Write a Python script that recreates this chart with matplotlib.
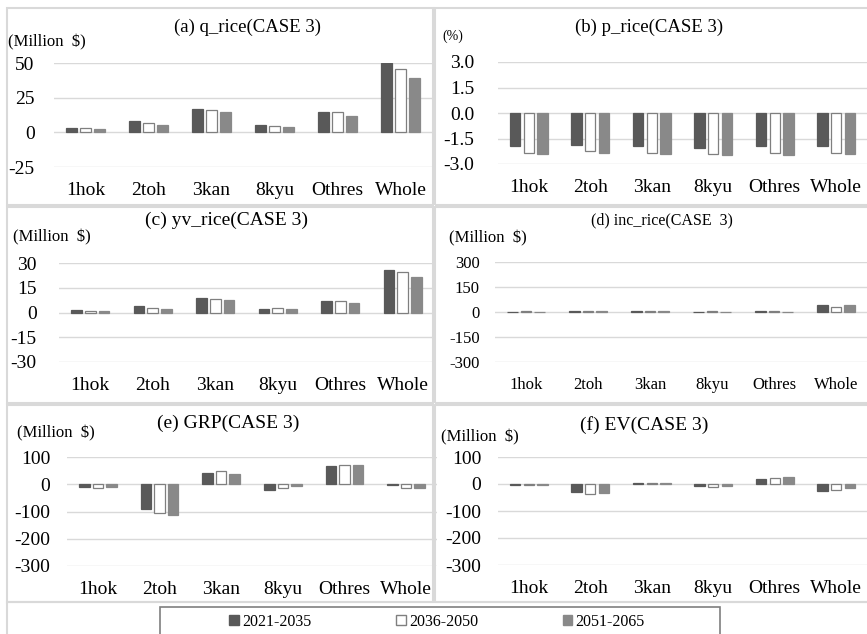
import numpy as np
import matplotlib
matplotlib.use("Agg")
import matplotlib.pyplot as plt
from matplotlib.patches import Rectangle, Patch

plt.rcParams['font.family'] = ['Liberation Serif', 'DejaVu Serif']

regions = ['1hok', '2toh', '3kan', '8kyu', 'Othres', 'Whole']
periods = ['2021-2035', '2036-2050', '2051-2065']

# (a) q_rice
q_rice_1 = [3.4, 8.0, 16.5, 5.0, 14.8, 50.0]
q_rice_2 = [2.8, 6.8, 16.3, 4.8, 14.5, 46.0]
q_rice_3 = [2.2, 5.0, 14.8, 4.0, 11.8, 39.5]
# (b) p_rice
p_rice_1 = [-1.95, -1.88, -1.95, -2.05, -1.95, -1.95]
p_rice_2 = [-2.34, -2.24, -2.34, -2.40, -2.34, -2.34]
p_rice_3 = [-2.44, -2.34, -2.44, -2.48, -2.48, -2.44]
# (c) yv_rice
yv_rice_1 = [1.4, 4.0, 8.6, 2.4, 7.0, 26.0]
yv_rice_2 = [1.2, 3.0, 8.4, 3.0, 7.0, 24.4]
yv_rice_3 = [0.8, 2.4, 7.8, 2.4, 5.6, 21.4]
# (d) inc_rice
inc_rice_1 = [1, 9, 9, 1, 9, 40]
inc_rice_2 = [9, 9, 9, 9, 9, 29]
inc_rice_3 = [1, 9, 9, 1, 1, 40]
# (e) GRP
grp_1 = [-10, -91, 43, -20, 68, -4]
grp_2 = [-15, -106, 49, -14, 71, -14]
grp_3 = [-10, -112, 37, -5, 71, -14]
# (f) EV
ev_1 = [-3, -28, 2, -8, 17, -25]
ev_2 = [-3, -37, 5, -12, 24, -24]
ev_3 = [-3, -34, 5, -8, 26, -16]

W, H = 867, 634
fig = plt.figure(figsize=(W / 100, H / 100), dpi=100)

def fx(x):
    return x / W

def fy(y):
    return 1 - y / H

def box(x0, y0, x1, y1):
    return [fx(x0), fy(y1), (x1 - x0) / W, (y1 - y0) / H]

# panel frames
for (x0, y0, x1, y1) in [(7, 8, 433, 205), (435, 8, 870, 205),
                         (7, 207, 433, 403), (435, 207, 870, 403),
                         (7, 405, 433, 602), (435, 405, 870, 602)]:
    fig.patches.append(Rectangle((fx(x0), fy(y1)), (x1 - x0) / W, (y1 - y0) / H,
                                 transform=fig.transFigure, fill=False,
                                 edgecolor='#d9d9d9', lw=1.5))
fig.patches.append(Rectangle((fx(7), fy(640)), (870 - 7) / W, (640 - 602) / H,
                             transform=fig.transFigure, fill=False,
                             edgecolor='#d9d9d9', lw=1.5))

colors = ['#595959', 'white', '#898989']
edges = ['#595959', '#7f7f7f', '#898989']

def draw(rect, vals, ticks, fmt, title, tpos, unit, upos, fs=13, tfs=13, ypad=12):
    ax = fig.add_axes(box(*rect))
    x = np.arange(len(regions))
    for i, v in enumerate(vals):
        ax.bar(x + (i - 1) * 0.22, v, 0.17, color=colors[i], edgecolor=edges[i],
               linewidth=0.9, zorder=3)
    ax.set_xlim(-0.5, len(regions) - 0.5)
    ax.set_ylim(ticks[0], ticks[-1])
    ax.set_yticks(ticks)
    ax.set_yticklabels([fmt.format(t) for t in ticks], fontsize=fs)
    ax.grid(axis='y', color='#d9d9d9', lw=1, zorder=0)
    for s in ax.spines.values():
        s.set_visible(False)
    ax.set_xticks(x)
    ax.set_xticklabels(regions, fontsize=fs)
    ax.tick_params(axis='x', length=0, pad=11)
    ax.tick_params(axis='y', length=0, pad=ypad)
    ax.set_facecolor('none')
    fig.text(fx(tpos[0]), fy(tpos[1]), title, ha='center', va='center', fontsize=tfs)
    fig.text(fx(upos[0]), fy(upos[1]), unit, ha='left', va='center',
             fontsize=upos[2])
    return ax

draw((54, 63, 432, 167), [q_rice_1, q_rice_2, q_rice_3], [-25, 0, 25, 50], '{:g}',
     '(a) q_rice(CASE 3)', (248, 27), '(Million  $)', (8, 42, 12), fs=14, tfs=13.5, ypad=14)
draw((498, 62, 867, 164), [p_rice_1, p_rice_2, p_rice_3], [-3.0, -1.5, 0.0, 1.5, 3.0], '{:.1f}',
     '(b) p_rice(CASE 3)', (649, 27), '(%)', (442, 36, 10), fs=14, tfs=13.5, ypad=17)
draw((59, 263, 434, 362), [yv_rice_1, yv_rice_2, yv_rice_3], [-30, -15, 0, 15, 30], '{:g}',
     '(c) yv_rice(CASE 3)', (227, 220), '(Million  $)', (13, 237, 12), fs=14, tfs=14, ypad=16)
draw((495, 262, 867, 362), [inc_rice_1, inc_rice_2, inc_rice_3], [-300, -150, 0, 150, 300], '{:g}',
     '(d) inc_rice(CASE  3)', (662, 220), '(Million  $)', (449, 238, 12), fs=12, tfs=11.5, ypad=11)
draw((67, 457, 437, 566), [grp_1, grp_2, grp_3], [-300, -200, -100, 0, 100], '{:g}',
     '(e) GRP(CASE 3)', (228, 423), '(Million  $)', (17, 433, 12), fs=14, tfs=14, ypad=12)
draw((498, 457, 867, 565), [ev_1, ev_2, ev_3], [-300, -200, -100, 0, 100], '{:g}',
     '(f) EV(CASE 3)', (644, 425), '(Million  $)', (441, 437, 12), fs=14, tfs=14, ypad=12)

# legend
fig.patches.append(Rectangle((fx(160), fy(640)), (720 - 160) / W, (640 - 607) / H,
                             transform=fig.transFigure, fill=False,
                             edgecolor='#7f7f7f', lw=1.2))
handles = [Patch(facecolor=colors[i], edgecolor=edges[i], label=periods[i]) for i in range(3)]
fig.legend(handles=handles, loc='center', bbox_to_anchor=(fx(437), fy(622)), ncol=3,
           frameon=False, fontsize=11.5, handlelength=0.6, handleheight=0.6,
           handletextpad=0.2, columnspacing=5.3)

fig.savefig('out.png', dpi=100)
